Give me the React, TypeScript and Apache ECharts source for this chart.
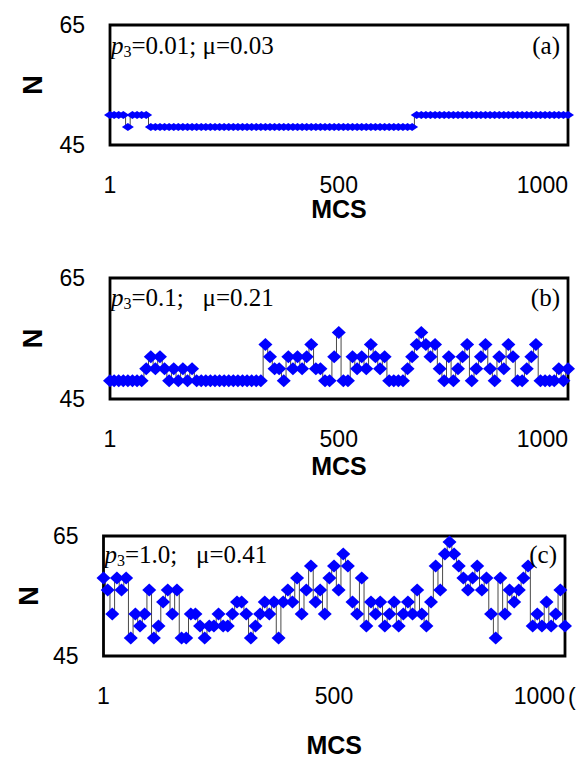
import React, { useEffect, useRef } from "react";
import * as echarts from "echarts";

// MCS sample points (every 10 Monte-Carlo steps)
const mcs = [
  1, 10, 20, 30, 40, 50, 60, 70, 80, 90,
  100, 110, 120, 130, 140, 150, 160, 170, 180, 190,
  200, 210, 220, 230, 240, 250, 260, 270, 280, 290,
  300, 310, 320, 330, 340, 350, 360, 370, 380, 390,
  400, 410, 420, 430, 440, 450, 460, 470, 480, 490,
  500, 510, 520, 530, 540, 550, 560, 570, 580, 590,
  600, 610, 620, 630, 640, 650, 660, 670, 680, 690,
  700, 710, 720, 730, 740, 750, 760, 770, 780, 790,
  800, 810, 820, 830, 840, 850, 860, 870, 880, 890,
  900, 910, 920, 930, 940, 950, 960, 970, 980, 990,
  1000,
];

// (a) p3 = 0.01
const nA = [
  50, 50, 50, 50, 48, 50, 50, 50, 50, 48,
  48, 48, 48, 48, 48, 48, 48, 48, 48, 48,
  48, 48, 48, 48, 48, 48, 48, 48, 48, 48,
  48, 48, 48, 48, 48, 48, 48, 48, 48, 48,
  48, 48, 48, 48, 48, 48, 48, 48, 48, 48,
  48, 48, 48, 48, 48, 48, 48, 48, 48, 48,
  48, 48, 48, 48, 48, 48, 48, 50, 50, 50,
  50, 50, 50, 50, 50, 50, 50, 50, 50, 50,
  50, 50, 50, 50, 50, 50, 50, 50, 50, 50,
  50, 50, 50, 50, 50, 50, 50, 50, 50, 50,
  50,
];

// (b) p3 = 0.1
const nB = [
  48, 48, 48, 48, 48, 48, 48, 48, 50, 52,
  50, 52, 50, 48, 50, 48, 50, 48, 50, 48,
  48, 48, 48, 48, 48, 48, 48, 48, 48, 48,
  48, 48, 48, 48, 54, 52, 50, 50, 48, 52,
  50, 52, 50, 52, 54, 50, 50, 48, 48, 52,
  56, 48, 48, 52, 50, 52, 50, 54, 52, 50,
  52, 48, 48, 48, 48, 50, 52, 54, 56, 54,
  52, 54, 50, 48, 52, 48, 50, 52, 54, 48,
  50, 52, 54, 50, 48, 52, 50, 54, 52, 48,
  48, 50, 52, 54, 48, 48, 48, 48, 50, 48,
  50,
];

// (c) p3 = 1.0
const nC = [
  58, 56, 52, 58, 56, 58, 48, 52, 50, 52,
  56, 48, 50, 54, 56, 52, 56, 48, 48, 52,
  52, 50, 48, 50, 50, 52, 50, 50, 52, 54,
  54, 52, 48, 50, 52, 54, 52, 54, 48, 54,
  56, 54, 58, 52, 56, 60, 54, 56, 52, 58,
  60, 56, 62, 60, 54, 52, 58, 50, 54, 52,
  54, 50, 52, 54, 50, 52, 54, 52, 56, 52,
  50, 54, 60, 56, 62, 64, 62, 60, 58, 56,
  58, 60, 56, 58, 52, 48, 58, 52, 56, 54,
  56, 58, 60, 50, 52, 50, 54, 50, 52, 56,
  50,
];

const xTicks = [1, 500, 1000];
const yTicks = [45, 65];
const panelTags = ["(a)", "(b)", "(c)"];
const p3Texts = ["=0.01; μ=0.03", "=0.1;   μ=0.21", "=1.0;   μ=0.41"];

const SANS = "Liberation Sans, Arial, sans-serif";
const SERIF = "Liberation Serif, Times New Roman, serif";

export default function App() {
  const ref = useRef<HTMLDivElement>(null);

  useEffect(() => {
    if (!ref.current) return;
    const chart = echarts.init(ref.current, undefined, { renderer: "svg" });

    const layouts = [
      { left: 110, top: 25, width: 458, height: 120, nameGap: 50, sym: [12, 8], textY: 45 },
      { left: 110, top: 278, width: 458, height: 121, nameGap: 54, sym: [14, 13], textY: 297 },
      { left: 103.5, top: 536, width: 461.5, height: 121, nameGap: 76, sym: [14, 13], textY: 554 },
    ];
    const values = [nA, nB, nC];

    const grid = layouts.map((l) => ({
      left: l.left,
      top: l.top,
      width: l.width,
      height: l.height,
      show: true,
      borderColor: "#000",
      borderWidth: 2.8,
      backgroundColor: "transparent",
    }));

    const xAxis = layouts.map((l, i) => ({
      gridIndex: i,
      type: "value",
      min: 1,
      max: 1000,
      axisLine: { show: false },
      axisTick: { show: false },
      splitLine: { show: false },
      axisLabel: {
        customValues: xTicks,
        formatter: (v: number) => String(v),
        fontFamily: SANS,
        fontSize: 23,
        color: "#000",
        margin: 28,
        alignMaxLabel: "right",
      },
      name: "MCS",
      nameLocation: "middle",
      nameGap: l.nameGap,
      nameTextStyle: { fontFamily: SANS, fontWeight: "bold", fontSize: 25, color: "#000" },
    }));

    const yAxis = layouts.map((l, i) => ({
      gridIndex: i,
      type: "value",
      min: 45,
      max: 65,
      axisLine: { show: false },
      axisTick: { show: false },
      splitLine: { show: false },
      axisLabel: {
        customValues: yTicks,
        fontFamily: SANS,
        fontSize: 23,
        color: "#000",
        margin: 25,
      },
      name: "N",
      nameLocation: "middle",
      nameGap: 64 - (110 - l.left),
      nameRotate: 90,
      nameTextStyle: { fontFamily: SANS, fontWeight: "bold", fontSize: 27, color: "#000" },
    }));

    const series = values.map((vals, i) => ({
      type: "line",
      xAxisIndex: i,
      yAxisIndex: i,
      data: mcs.map((x, k) => [x, vals[k]]),
      step: "middle",
      symbol: "diamond",
      symbolSize: layouts[i].sym,
      showSymbol: true,
      itemStyle: { color: "#0000ff" },
      lineStyle: { color: "#4a4a4a", width: 1 },
      clip: false,
      z: 3,
    }));

    const graphic: any[] = [];
    layouts.forEach((l, i) => {
      graphic.push({
        type: "text",
        x: l.left + 1,
        y: l.textY,
        style: {
          text: `{i|p}{s|3}{n|${p3Texts[i]}}`,
          verticalAlign: "middle",
          align: "left",
          rich: {
            i: { fontFamily: SERIF, fontStyle: "italic", fontSize: 25, lineHeight: 28, fill: "#000" },
            s: { fontFamily: SERIF, fontSize: 16, lineHeight: 16, fill: "#000", verticalAlign: "bottom" },
            n: { fontFamily: SERIF, fontSize: 25, lineHeight: 28, fill: "#000" },
          },
        },
        z: 10,
      });
      graphic.push({
        type: "text",
        x: l.left + l.width - 8,
        y: l.textY,
        style: {
          text: panelTags[i],
          fontFamily: SERIF,
          fontSize: 25,
          fill: "#000",
          align: "right",
          verticalAlign: "middle",
        },
        z: 10,
      });
    });
    graphic.push({
      type: "text",
      x: 568,
      y: 697,
      style: { text: "(", fontFamily: SANS, fontSize: 23, fill: "#000", verticalAlign: "middle" },
    });

    chart.setOption({
      animation: false,
      backgroundColor: "#fff",
      grid,
      xAxis,
      yAxis,
      series,
      graphic,
    } as any);

    return () => chart.dispose();
  }, []);

  return (
    <div
      ref={ref}
      style={{ position: "absolute", left: 0, top: 0, width: 578, height: 758, background: "#fff" }}
    />
  );
}
